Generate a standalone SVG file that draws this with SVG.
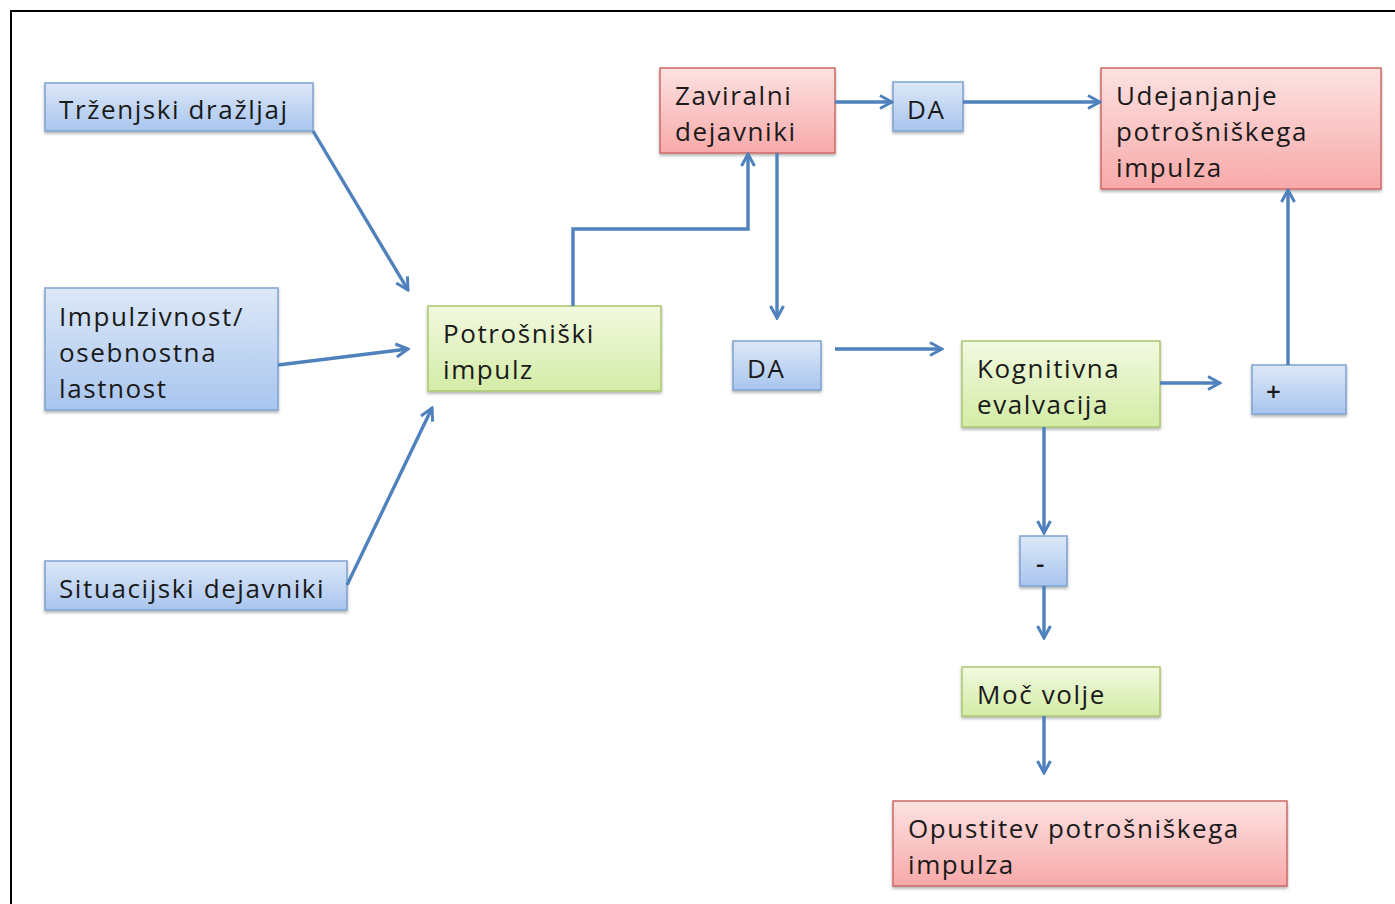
<svg xmlns="http://www.w3.org/2000/svg" width="1395" height="904" viewBox="0 0 1395 904">
<defs>
<linearGradient id="gBlue" x1="0" y1="0" x2="0" y2="1"><stop offset="0" stop-color="#dde8f7"/><stop offset="1" stop-color="#a8c5ef"/></linearGradient>
<linearGradient id="gGreen" x1="0" y1="0" x2="0" y2="1"><stop offset="0" stop-color="#f2f9e0"/><stop offset="1" stop-color="#d3eca6"/></linearGradient>
<linearGradient id="gRed" x1="0" y1="0" x2="0" y2="1"><stop offset="0" stop-color="#fde2e2"/><stop offset="1" stop-color="#f8a9a9"/></linearGradient>
<filter id="sh" x="-10%" y="-10%" width="120%" height="130%"><feDropShadow dx="0" dy="2" stdDeviation="1.5" flood-color="#000" flood-opacity="0.3"/></filter>
<marker id="arr" viewBox="0 0 16 16" refX="14" refY="8" markerWidth="16" markerHeight="16" markerUnits="userSpaceOnUse" orient="auto"><path d="M2,1.5 L14,8 L2,14.5" fill="none" stroke="#4f81bd" stroke-width="3"/></marker>
</defs>
<style>
.blue{fill:url(#gBlue);stroke:#7ea2cf;stroke-width:1.5;filter:url(#sh)}
.green{fill:url(#gGreen);stroke:#a9c86f;stroke-width:1.5;filter:url(#sh)}
.red{fill:url(#gRed);stroke:#cd6a66;stroke-width:1.5;filter:url(#sh)}
text{font-family:"Open Sans","Liberation Sans",sans-serif;font-size:26px;letter-spacing:1.6px;fill:#1a1a1a}
.sym{font-size:26px;font-weight:600;letter-spacing:0}
.c{fill:none;stroke:#4f81bd;stroke-width:3.4;marker-end:url(#arr)}
</style>
<rect x="0" y="0" width="1395" height="904" fill="#fff"/>
<path d="M11,910 L11,11 L1400,11" fill="none" stroke="#000" stroke-width="2"/>
<g id="trzenjski"><rect class="blue" x="45" y="83" width="268" height="48"/><text x="59" y="119">Trženjski dražljaj</text></g>
<g id="impulzivnost"><rect class="blue" x="45" y="288" width="233" height="122"/><text x="59" y="326">Impulzivnost/</text><text x="59" y="362">osebnostna</text><text x="59" y="398">lastnost</text></g>
<g id="situacijski"><rect class="blue" x="45" y="561" width="302" height="49"/><text x="59" y="598">Situacijski dejavniki</text></g>
<g id="potrosniski"><rect class="green" x="428" y="306" width="233" height="85"/><text x="443" y="343">Potrošniški</text><text x="443" y="379">impulz</text></g>
<g id="zaviralni"><rect class="red" x="660" y="68" width="175" height="85"/><text x="675" y="105">Zaviralni</text><text x="675" y="141">dejavniki</text></g>
<g id="da1"><rect class="blue" x="893" y="82" width="70" height="49"/><text x="907" y="119">DA</text></g>
<g id="udejanjanje"><rect class="red" x="1101" y="68" width="280" height="121"/><text x="1116" y="105">Udejanjanje</text><text x="1116" y="141">potrošniškega</text><text x="1116" y="177">impulza</text></g>
<g id="da2"><rect class="blue" x="733" y="341" width="88" height="49"/><text x="747" y="378">DA</text></g>
<g id="kognitivna"><rect class="green" x="962" y="341" width="198" height="86"/><text x="977" y="378">Kognitivna</text><text x="977" y="414">evalvacija</text></g>
<g id="plus"><rect class="blue" x="1252" y="365" width="94" height="49"/><text class="sym" x="1266" y="401">+</text></g>
<g id="minus"><rect class="blue" x="1020" y="536" width="47" height="50"/><text class="sym" x="1036" y="573">-</text></g>
<g id="moc"><rect class="green" x="962" y="667" width="198" height="49"/><text x="977" y="704">Moč volje</text></g>
<g id="opustitev"><rect class="red" x="893" y="801" width="394" height="85"/><text x="908" y="838">Opustitev potrošniškega</text><text x="908" y="874">impulza</text></g>
<g id="connectors">
<path class="c" d="M313,131 L408,290"/>
<path class="c" d="M278,365 L408,349"/>
<path class="c" d="M347,585 L432,408"/>
<path class="c" d="M573,306 L573,229 L748,229 L748,154"/>
<path class="c" d="M777,153 L777,318"/>
<path class="c" d="M835,102 L892,102"/>
<path class="c" d="M963,102 L1100,102"/>
<path class="c" d="M835,349 L942,349"/>
<path class="c" d="M1160,383 L1220,383"/>
<path class="c" d="M1288,365 L1288,190"/>
<path class="c" d="M1044,427 L1044,533"/>
<path class="c" d="M1044,586 L1044,638"/>
<path class="c" d="M1044,716 L1044,773"/>
</g>
</svg>
